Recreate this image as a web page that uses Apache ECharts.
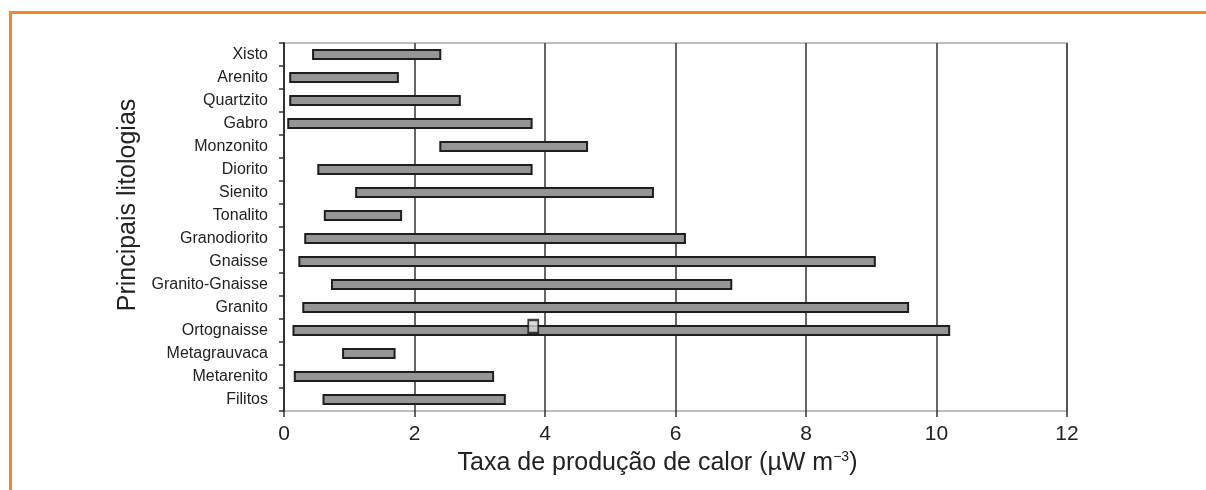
<!DOCTYPE html>
<html>
<head>
<meta charset="utf-8">
<title>Taxa de produção de calor</title>
<script src="https://cdn.jsdelivr.net/npm/echarts@6/dist/echarts.min.js"></script>
<style>
  html, body { margin: 0; padding: 0; background: #fff; }
  #chart { width: 1206px; height: 490px; }
  /* moldura laranja (topo + esquerda) */
  #frame {
    position: absolute; left: 9px; top: 11px; right: 0; bottom: 0;
    border-top: 3px solid #f4872c; border-left: 3px solid #f4872c;
    pointer-events: none;
  }
</style>
</head>
<body>
<div id="chart"></div>
<div id="frame"></div>
<script>
// litologias, de cima para baixo
const categories = [
  'Xisto', 'Arenito', 'Quartzito', 'Gabro', 'Monzonito', 'Diorito', 'Sienito',
  'Tonalito', 'Granodiorito', 'Gnaisse', 'Granito-Gnaisse', 'Granito',
  'Ortognaisse', 'Metagrauvaca', 'Metarenito', 'Filitos'
]
// limites inferior / superior (µW m-3)
const minVals = [0.43, 0.08, 0.08, 0.05, 2.38, 0.51, 1.09, 0.61, 0.31, 0.22, 0.72, 0.28, 0.13, 0.89, 0.15, 0.59]
const maxVals = [2.41, 1.76, 2.71, 3.81, 4.66, 3.81, 5.67, 1.81, 6.16, 9.07, 6.87, 9.58, 10.21, 1.71, 3.22, 3.40]
// valor médio marcado (Ortognaisse)
const markPoints = [[3.82, 'Ortognaisse']]

const font = "'Liberation Sans', Arial, sans-serif"

const chart = echarts.init(document.getElementById('chart'))

chart.setOption({
  animation: false,
  textStyle: { fontFamily: font },
  grid: {
    left: 284, right: 139, top: 43, bottom: 79,
    show: true, borderColor: '#a8a8a8', borderWidth: 1.5
  },
  xAxis: {
    type: 'value',
    min: 0, max: 12, interval: 2,
    name: 'Taxa de produção de calor (µW m{sup|−3})',
    nameLocation: 'middle',
    nameGap: 31,
    nameTextStyle: {
      fontSize: 25, color: '#222', fontFamily: font,
      padding: [0, 36, 0, 0],
      rich: { sup: { fontSize: 14, verticalAlign: 'top', padding: [0, 0, 12, 0], color: '#222', fontFamily: font } }
    },
    axisLine: { lineStyle: { color: '#333', width: 1.5 } },
    axisTick: { show: true, length: 6, lineStyle: { color: '#333', width: 1.5 } },
    axisLabel: { fontSize: 21, color: '#222', margin: 13 },
    splitLine: { show: true, lineStyle: { color: '#333', width: 1.5 } }
  },
  yAxis: {
    type: 'category',
    data: categories,
    inverse: true,
    name: 'Principais litologias',
    nameLocation: 'middle',
    nameGap: 142,
    nameTextStyle: { fontSize: 25, color: '#222', fontFamily: font, padding: [0, 0, 0, 44] },
    axisLine: { lineStyle: { color: '#333', width: 2 } },
    axisTick: { show: true, length: 5, lineStyle: { color: '#333', width: 1.5 } },
    axisLabel: { fontSize: 16, color: '#222', margin: 16 },
    splitLine: { show: false }
  },
  series: [
    {
      type: 'bar',
      stack: 'faixa',
      data: minVals,
      barWidth: 11,
      silent: true,
      itemStyle: { color: 'transparent', borderWidth: 0 }
    },
    {
      type: 'bar',
      stack: 'faixa',
      data: maxVals.map((v, i) => +(v - minVals[i]).toFixed(2)),
      barWidth: 11,
      itemStyle: { color: '#959595', borderColor: '#1e1e1e', borderWidth: 2 }
    },
    {
      type: 'scatter',
      data: markPoints,
      symbol: 'rect',
      symbolSize: [10, 13],
      symbolOffset: [0, -4],
      z: 5,
      itemStyle: { color: '#d4d4d4', borderColor: '#111', borderWidth: 2 }
    }
  ]
})
</script>
</body>
</html>
